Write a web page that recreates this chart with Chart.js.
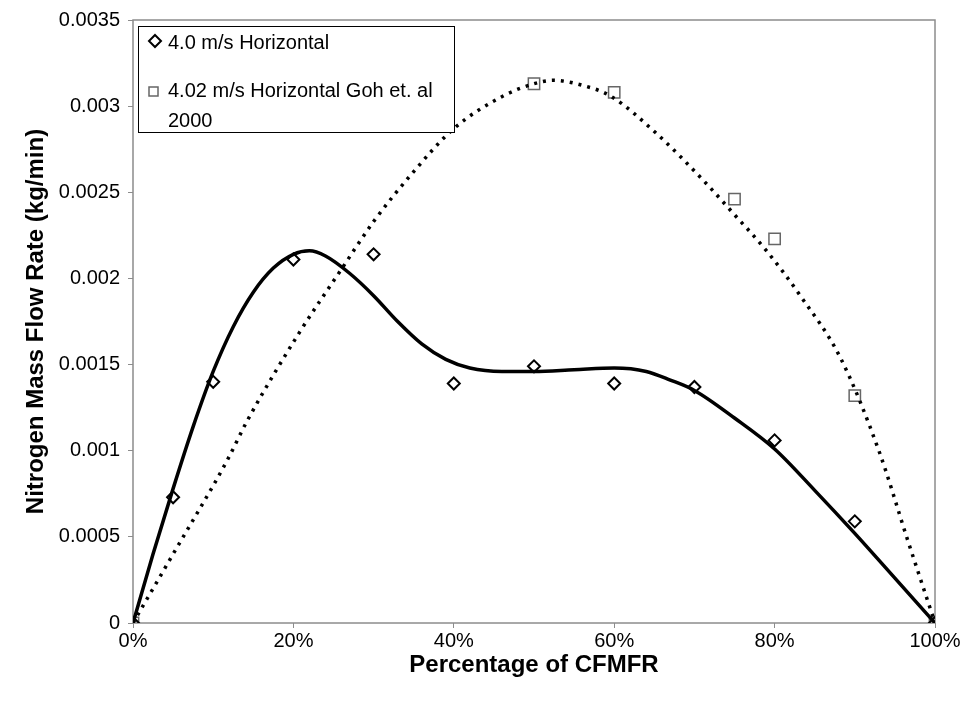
<!DOCTYPE html>
<html>
<head>
<meta charset="utf-8">
<script src="https://cdn.jsdelivr.net/npm/chart.js@4.4.1/dist/chart.umd.min.js"></script>
<style>
  html, body { margin: 0; padding: 0; background: #fff; }
</style>
</head>
<body>
<canvas id="chart" width="967" height="705"></canvas>
<script>
// measured points
const pctA  = [0, 0.05, 0.10, 0.20, 0.30, 0.40, 0.50, 0.60, 0.70, 0.80, 0.90, 1.00];
const flowA = [0, 0.00073, 0.00140, 0.00211, 0.00214, 0.00139, 0.00149, 0.00139, 0.00137, 0.00106, 0.00059, 0];
const pctB  = [0, 0.50, 0.60, 0.75, 0.80, 0.90, 1.00];
const flowB = [0, 0.00313, 0.00308, 0.00246, 0.00223, 0.00132, 0];

// trend lines
const trendAX = [0, 0.025, 0.05, 0.075, 0.10, 0.125, 0.15, 0.175, 0.20, 0.22, 0.24, 0.27, 0.30, 0.33, 0.36, 0.39, 0.42, 0.46, 0.50, 0.55, 0.60, 0.64, 0.67, 0.70, 0.75, 0.80, 0.85, 0.90, 0.95, 1.00];
const trendAY = [0, 0.00040, 0.00078, 0.00114, 0.00146, 0.00172, 0.00192, 0.00206, 0.00214, 0.00216, 0.00213, 0.00203, 0.00190, 0.00175, 0.00162, 0.00153, 0.00148, 0.00146, 0.00146, 0.00147, 0.00148, 0.00146, 0.00141, 0.00135, 0.00119, 0.00101, 0.00077, 0.00052, 0.00026, 0];
const trendBX = [0, 0.05, 0.117, 0.142, 0.208, 0.258, 0.30, 0.35, 0.40, 0.462, 0.50, 0.524, 0.561, 0.595, 0.653, 0.715, 0.748, 0.79, 0.832, 0.882, 0.93, 0.966, 1.00];
const trendBY = [0, 0.00040, 0.00094, 0.00117, 0.00169, 0.00204, 0.00233, 0.00262, 0.00287, 0.00306, 0.00313, 0.00315, 0.00312, 0.00306, 0.00284, 0.00255, 0.00238, 0.00216, 0.00190, 0.00154, 0.00100, 0.00048, 0];

const seriesLabels = [['4.0 m/s Horizontal'], ['4.02 m/s Horizontal Goh et. al', '2000']];

const xy = (xs, ys) => xs.map((x, i) => ({x: x, y: ys[i]}));
const FONT = "'Liberation Sans', Arial, sans-serif";

// grey frame round the plot and the boxed legend
const frameLegend = {
  id: 'frameLegend',
  beforeDatasetsDraw(chart) {
    const {ctx, chartArea: a} = chart;
    ctx.save();
    ctx.strokeStyle = '#8c8c8c';
    ctx.lineWidth = 1.5;
    ctx.strokeRect(a.left, a.top, a.right - a.left, a.bottom - a.top);
    ctx.restore();
  },
  afterDatasetsDraw(chart) {
    const {ctx, chartArea: a} = chart;
    const bx = a.left + 5, by = a.top + 6, bw = 316, bh = 106;
    ctx.save();
    ctx.fillStyle = '#fff';
    ctx.fillRect(bx, by, bw, bh);
    ctx.strokeStyle = '#000';
    ctx.lineWidth = 1;
    ctx.strokeRect(bx + 0.5, by + 0.5, bw, bh);

    // diamond
    ctx.lineWidth = 2;
    ctx.beginPath();
    const dx = bx + 17, dy = by + 15;
    ctx.moveTo(dx, dy - 6); ctx.lineTo(dx + 6, dy); ctx.lineTo(dx, dy + 6); ctx.lineTo(dx - 6, dy); ctx.closePath();
    ctx.stroke();
    // square
    ctx.strokeStyle = '#666';
    ctx.lineWidth = 1.5;
    ctx.strokeRect(bx + 11, by + 61, 9, 9);

    ctx.fillStyle = '#000';
    ctx.font = '20px ' + FONT;
    ctx.textBaseline = 'alphabetic';
    ctx.fillText(seriesLabels[0][0], bx + 30, by + 23);
    ctx.fillText(seriesLabels[1][0], bx + 30, by + 71);
    ctx.fillText(seriesLabels[1][1], bx + 30, by + 101);
    ctx.restore();
  }
};

new Chart(document.getElementById('chart'), {
  type: 'scatter',
  data: {
    datasets: [
      {
        label: seriesLabels[0].join(' ') + ' trend',
        data: xy(trendAX, trendAY),
        showLine: true,
        borderColor: '#000',
        borderWidth: 3.5,
        pointRadius: 0,
        cubicInterpolationMode: 'monotone',
        order: 0
      }, {
        label: seriesLabels[1].join(' ') + ' trend',
        data: xy(trendBX, trendBY),
        showLine: true,
        borderColor: '#000',
        borderWidth: 3.5,
        borderDash: [3, 6],
        pointRadius: 0,
        cubicInterpolationMode: 'monotone',
        order: 0
      }, {
        label: seriesLabels[0].join(' '),
        data: xy(pctA, flowA),
        pointStyle: 'rectRot',
        pointRadius: 6,
        pointBorderWidth: 2,
        pointBorderColor: '#000',
        pointBackgroundColor: 'rgba(0,0,0,0)',
        order: 1
      }, {
        label: seriesLabels[1].join(' '),
        data: xy(pctB, flowB),
        pointStyle: 'rect',
        pointRadius: 8,
        pointBorderWidth: 1.5,
        pointBorderColor: '#666',
        pointBackgroundColor: 'rgba(0,0,0,0)',
        order: 1
      }
    ]
  },
  options: {
    responsive: false,
    animation: false,
    layout: { padding: { top: 16, right: 32, left: 0, bottom: 0 } },
    plugins: { legend: { display: false }, tooltip: { enabled: false } },
    scales: {
      x: {
        type: 'linear',
        min: 0, max: 1,
        afterFit: s => { s.height = 82; },
        border: { display: false },
        grid: { display: true, drawOnChartArea: false, tickLength: 5, color: '#8c8c8c' },
        ticks: {
          stepSize: 0.2,
          color: '#000',
          padding: 1,
          font: { family: FONT, size: 20 },
          callback: v => Math.round(v * 100) + '%'
        },
        title: {
          display: true,
          text: 'Percentage of CFMFR',
          color: '#000',
          font: { family: FONT, size: 24, weight: 'bold' },
          padding: { top: 0, bottom: 25 }
        }
      },
      y: {
        min: 0, max: 0.0035,
        afterFit: s => { s.width = 133; },
        border: { display: false },
        grid: { display: true, drawOnChartArea: false, tickLength: 5, color: '#8c8c8c' },
        ticks: {
          stepSize: 0.0005,
          color: '#000',
          padding: 8,
          font: { family: FONT, size: 20 },
          callback: v => String(parseFloat(v.toFixed(4)))
        },
        title: {
          display: true,
          text: 'Nitrogen Mass Flow Rate (kg/min)',
          color: '#000',
          font: { family: FONT, size: 24, weight: 'bold' },
          padding: { top: 22, bottom: 0 }
        }
      }
    }
  },
  plugins: [frameLegend]
});
</script>
</body>
</html>
